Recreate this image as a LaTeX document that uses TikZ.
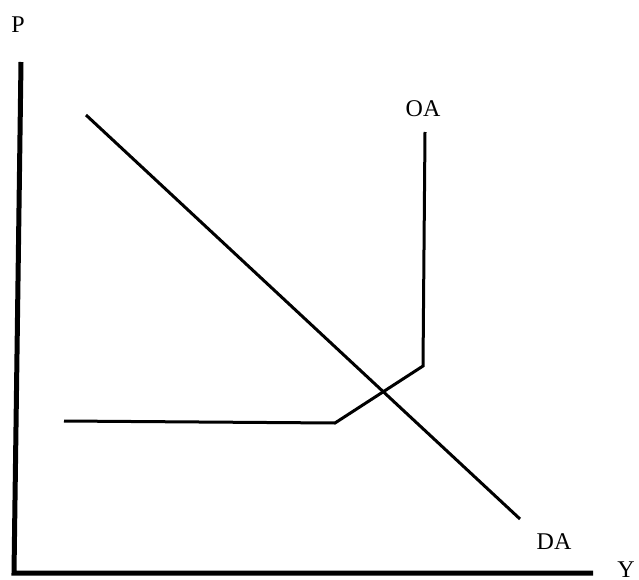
\documentclass[tikz,border=0pt]{standalone}
\usepackage{fontspec}
\setmainfont{Liberation Serif}
\usepackage{tikz}

\begin{document}
\begin{tikzpicture}[x=1pt,y=-1pt]
  \useasboundingbox (0,0) rectangle (639,580);
  % ejes
  \coordinate (O) at (14,573);
  \coordinate (Ptop) at (21,62);
  \coordinate (Yend) at (593,573);
  \draw[line width=5pt] (Ptop) -- (O) -- (Yend);
  \node at (18,25) {\fontsize{24}{28}\selectfont P};
  \node at (626,570) {\fontsize{24}{28}\selectfont Y};
  % demanda agregada
  \coordinate (DA1) at (86,115);
  \coordinate (DA2) at (520,519);
  \draw[line width=3pt] (DA1) -- (DA2);
  \node at (554,542) {\fontsize{24}{28}\selectfont DA};
  % oferta agregada
  \coordinate (OA1) at (64,421);
  \coordinate (OA2) at (335,423);
  \coordinate (OA3) at (423,366);
  \coordinate (OA4) at (425,132);
  \draw[line width=3pt] (OA1) -- (OA2) -- (OA3) -- (OA4);
  \node at (423,109) {\fontsize{24}{28}\selectfont OA};
\end{tikzpicture}
\end{document}
